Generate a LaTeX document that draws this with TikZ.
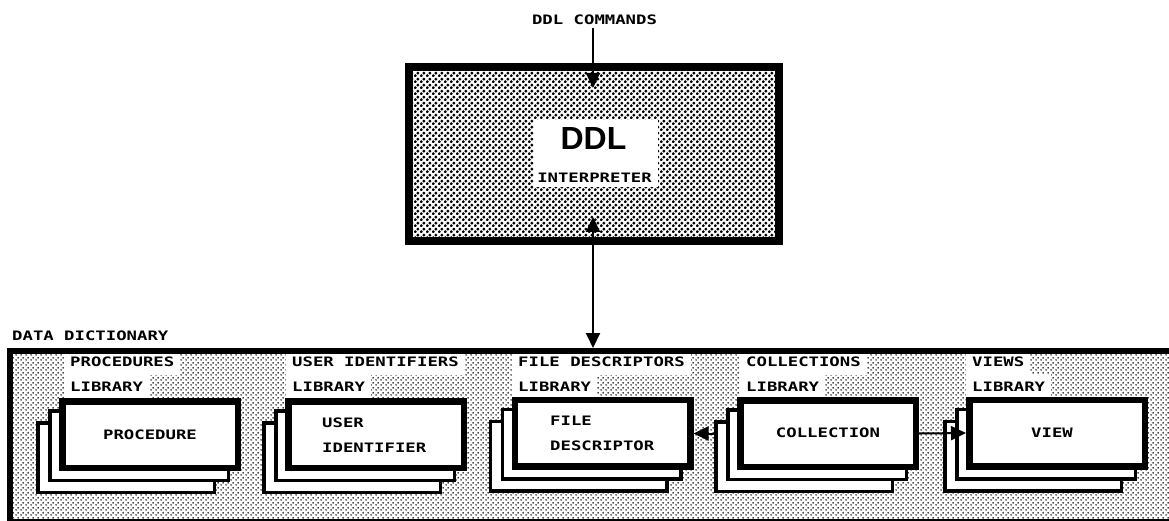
\documentclass[tikz,border=0pt]{standalone}
\usepackage{fontspec}
\usetikzlibrary{arrows.meta,patterns,calc}
\newfontfamily\labfam{DejaVu Sans Mono}[FakeStretch=1.33]
\newfontfamily\bigfam{Liberation Sans}
\newcommand\labtxt{\labfam\bfseries\fontsize{13}{25}\selectfont}
\newcommand\bigtxt{\bigfam\bfseries\fontsize{32}{36}\selectfont}
\pgfdeclarepatternformonly{ddldots}{\pgfpointorigin}{\pgfpoint{6pt}{6pt}}{\pgfpoint{6pt}{6pt}}{%
  \pgfpathcircle{\pgfpoint{1.5pt}{1.5pt}}{1.85pt}%
  \pgfpathcircle{\pgfpoint{4.5pt}{4.5pt}}{1.85pt}%
  \pgfusepath{fill}}
\pgfdeclarepatternformonly{dictdots}{\pgfpointorigin}{\pgfpoint{5pt}{5pt}}{\pgfpoint{5pt}{5pt}}{%
  \pgfpathcircle{\pgfpoint{1.25pt}{1.25pt}}{0.95pt}%
  \pgfpathcircle{\pgfpoint{3.75pt}{3.75pt}}{0.95pt}%
  \pgfusepath{fill}}
\newcommand\cardstack[3]{%
  \node[cardback] (#1b) at (#2-24,#3+23) {};
  \node[cardmid] (#1m) at (#2-11,#3+11) {};
  \node[cardfront] (#1) at (#2,#3) {};
}
\begin{document}
\begin{tikzpicture}[x=1pt,y=-1pt,
  lab/.style={font=\labtxt, inner sep=0pt},
  libl/.style={lab, fill=white, inner xsep=6pt, inner ysep=0pt, minimum height=25.5pt, anchor=west},
  cardback/.style={draw, fill=white, line width=3.5pt, minimum width=176.5pt, minimum height=69.5pt, inner sep=0pt},
  cardmid/.style={draw, fill=white, line width=3.5pt, minimum width=178.5pt, minimum height=69.5pt, inner sep=0pt},
  cardfront/.style={draw, fill=white, line width=6.5pt, minimum width=175.5pt, minimum height=66.5pt, inner sep=0pt},
  arr/.style={line width=2pt, -{Triangle[length=15pt,width=14pt]}},
  arrboth/.style={line width=2pt, {Triangle[length=15pt,width=14pt]}-{Triangle[length=15pt,width=14pt]}}
]
\useasboundingbox (0,0) rectangle (1169,521);
\clip (0,0) rectangle (1169,521);

% top command label and interpreter box
\node[lab] (cmd) at (594.5,20) {DDL COMMANDS};
\node[draw, line width=8pt, pattern=ddldots, pattern color=black,
      minimum width=370pt, minimum height=174pt, inner sep=0pt] (ddl) at (594,154) {};
\node[fill=white, minimum width=124pt, minimum height=67pt, inner sep=0pt] (ddlwhite) at (596,153.5) {};
\node[font=\bigtxt, inner sep=0pt] (ddlt) at (593.5,138.5) {DDL};
\node[lab] (interp) at (594.5,178) {INTERPRETER};
\coordinate (cmdtip) at (593,88);
\coordinate (ddlport) at (593,217);

% data dictionary
\node[lab, anchor=west] (ddlab) at (12,336) {DATA DICTIONARY};
\node[pattern=dictdots, pattern color=black, minimum width=1172pt, minimum height=172pt,
      inner sep=0pt, outer sep=0pt, anchor=north west] (dict) at (7,348) {};

% library labels
\node[libl] (Pl1) at (64,362) {PROCEDURES};
\node[libl] (Pl2) at (64,387) {LIBRARY};
\node[libl] (Ul1) at (286,362) {USER IDENTIFIERS};
\node[libl] (Ul2) at (286,387) {LIBRARY};
\node[libl] (Fl1) at (512,362) {FILE DESCRIPTORS};
\node[libl] (Fl2) at (512,387) {LIBRARY};
\node[libl] (Cl1) at (740,362) {COLLECTIONS};
\node[libl] (Cl2) at (740,387) {LIBRARY};
\node[libl] (Vl1) at (966,362) {VIEWS};
\node[libl] (Vl2) at (966,387) {LIBRARY};

% dictionary borders
\draw[line width=6pt] ($(dict.south west)+(3,0)$) |- ($(dict.north east)+(0,3)$);
\draw[line width=1.2pt] (dict.south west) -- (dict.south east);

% card stacks
\cardstack{P}{150}{434.5}
\cardstack{U}{376}{434.5}
\cardstack{F}{602.5}{433}
\cardstack{C}{828}{433.5}
\cardstack{V}{1057}{433}

\node[lab] (Pt) at (150,435) {PROCEDURE};
\node[lab, align=left, anchor=west] (Ut) at (322,435.5) {USER\\IDENTIFIER};
\node[lab, align=left, anchor=west] (Ft) at (550,433) {FILE\\DESCRIPTOR};
\node[lab] (Ct) at (828,433) {COLLECTION};
\node[lab] (Vt) at (1052,433) {VIEW};

% connectors
\draw[arr] (cmd.south -| cmdtip) ++(0,3) -- (cmdtip);
\draw[arrboth] (ddlport) -- (ddlport |- dict.north);
\draw[arr] (Cb.west |- C.center) -- (F.east |- C.center);
\draw[arr] (C.east) -- (V.west);
\end{tikzpicture}
\end{document}
